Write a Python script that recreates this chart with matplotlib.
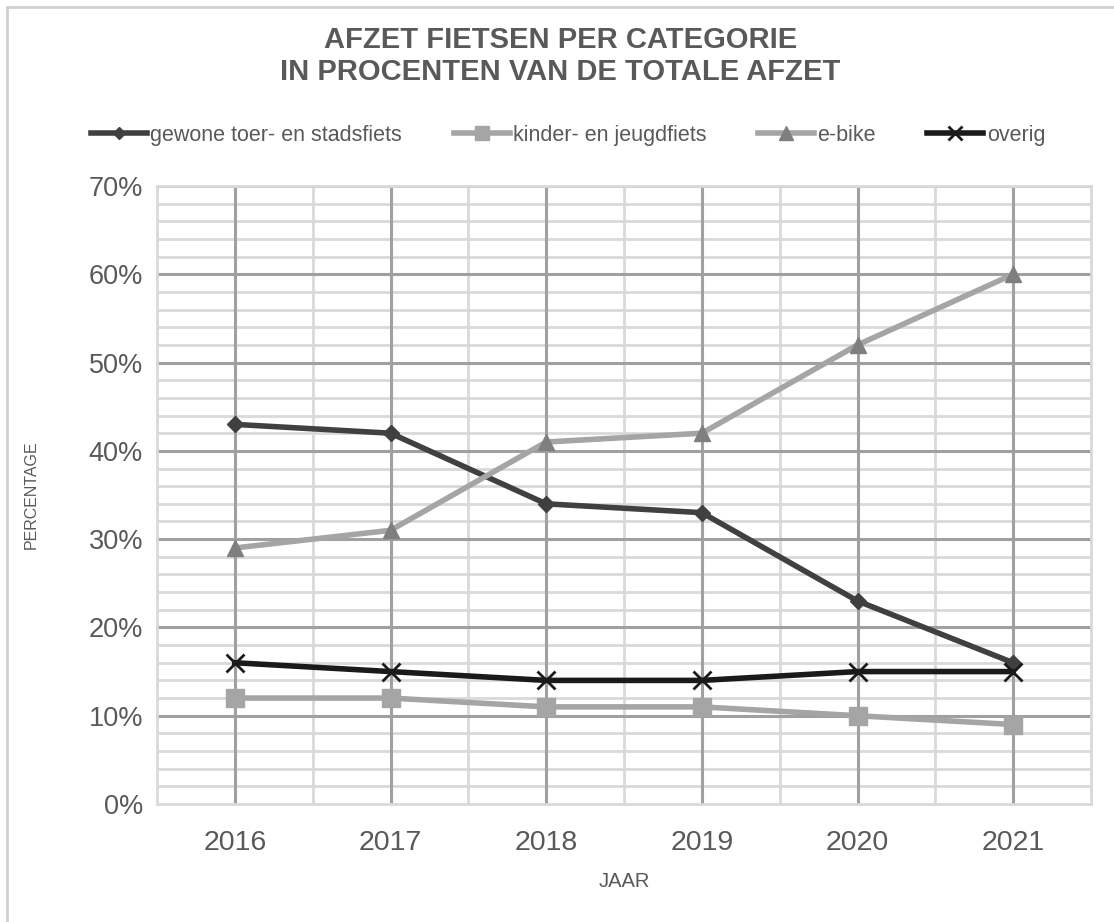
import numpy as np
import matplotlib.pyplot as plt
from matplotlib.patches import Rectangle
from matplotlib.ticker import FuncFormatter

plt.rcParams['font.family'] = ['Liberation Sans', 'DejaVu Sans']

years = [2016, 2017, 2018, 2019, 2020, 2021]
gewone = [43, 42, 34, 33, 23, 16]
kinder = [12, 12, 11, 11, 10, 9]
ebike = [29, 31, 41, 42, 52, 60]
overig = [16, 15, 14, 14, 15, 15]

labels = ['gewone toer- en stadsfiets', 'kinder- en jeugdfiets', 'e-bike', 'overig']
title = 'AFZET FIETSEN PER CATEGORIE\nIN PROCENTEN VAN DE TOTALE AFZET'

fig = plt.figure(figsize=(11.14, 9.22), dpi=100)
ax = fig.add_axes([157 / 1114, 1 - 804 / 922, (1091 - 157) / 1114, (804 - 186) / 922])

# outer frame (only left/top edges visible in the reference)
fig.patches.append(Rectangle((7 / 1114, -0.1), 1.2, 1 - 7 / 922 + 0.1, transform=fig.transFigure,
                             fill=False, edgecolor='#d0d0d0', linewidth=2))

x = np.arange(len(years))

# grid: light minor lines first, darker major lines on top
for v in np.arange(0, 71, 2):
    if v % 10:
        ax.axhline(v, color='#d9d9d9', lw=2, zorder=1)
for v in x[:-1] + 0.5:
    ax.axvline(v, color='#d9d9d9', lw=2, zorder=1)
for v in range(10, 71, 10):
    ax.axhline(v, color='#a0a0a0', lw=2.2, zorder=2)
for v in x:
    ax.axvline(v, color='#a0a0a0', lw=2.2, zorder=2)

ax.plot(x, gewone, color='#404040', lw=4, marker='D', ms=8, label=labels[0], zorder=4)
ax.plot(x, kinder, color='#a5a5a5', lw=4, marker='s', ms=13, label=labels[1], zorder=4)
ax.plot(x, ebike, color='#a5a5a5', lw=4, marker='^', ms=12, mfc='#7f7f7f', mec='#7f7f7f',
        label=labels[2], zorder=4)
ax.plot(x, overig, color='#1a1a1a', lw=4, marker='x', ms=13, mew=2, label=labels[3], zorder=4)

ax.set_xlim(-0.5, len(years) - 0.5)
ax.set_ylim(0, 70)
ax.set_xticks(x)
ax.set_xticklabels([str(y) for y in years])
ax.set_yticks(range(0, 71, 10))
ax.yaxis.set_major_formatter(FuncFormatter(lambda v, p: f'{v:.0f}%'))

for s in ax.spines.values():
    s.set_color('#d9d9d9')
    s.set_linewidth(2)
ax.tick_params(which='both', length=0)
ax.tick_params(axis='y', labelsize=19.5, labelcolor='#595959', pad=10)
ax.tick_params(axis='x', labelsize=20.5, labelcolor='#595959', pad=19)

ax.set_ylabel('PERCENTAGE', fontsize=11.5, color='#595959', labelpad=36)
ax.set_xlabel('JAAR', fontsize=14.5, color='#595959', labelpad=11)

fig.text(0.503, 1 - 56 / 922, title, ha='center', va='center', fontsize=21,
         fontweight='bold', color='#595959', linespacing=1.15)

leg = fig.legend(loc='center', bbox_to_anchor=(0.51, 1 - 135 / 922), ncol=4, frameon=False,
                 fontsize=15.5, handlelength=2.6, handletextpad=0.15, columnspacing=2.4,
                 labelcolor='#595959')
for h in leg.legend_handles:
    h.set_markersize(h.get_markersize() * 0.8)

fig.savefig('out.png', dpi=100)
